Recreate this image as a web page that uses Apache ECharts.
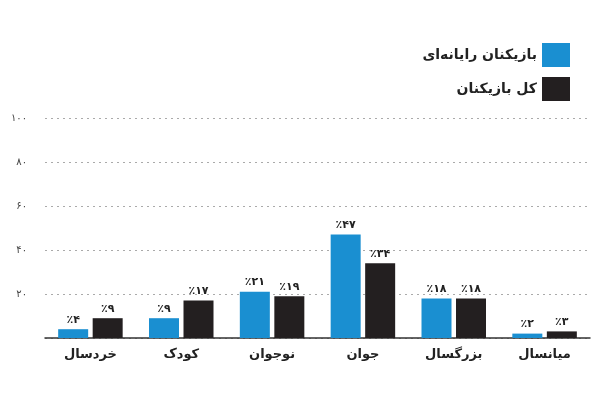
<!DOCTYPE html>
<html>
<head>
<meta charset="utf-8">
<script src="https://cdn.jsdelivr.net/npm/echarts@6/dist/echarts.min.js"></script>
<style>html,body{margin:0;background:#fff}#chart{width:600px;height:400px}</style>
</head>
<body>
<div id="chart"></div>
<script>
var categories = ['خردسال', 'کودک', 'نوجوان', 'جوان', 'بزرگسال', 'میانسال'];
var computerPlayers = [4, 9, 21, 47, 18, 2];
var allPlayers = [9, 17, 19, 34, 18, 3];
var seriesNames = ['بازیکنان رایانه‌ای', 'کل بازیکنان'];

var fa = function (n) {
  return String(n).replace(/\d/g, function (d) { return '۰۱۲۳۴۵۶۷۸۹'[d]; });
};
var font = 'DejaVu Sans';

var chart = echarts.init(document.getElementById('chart'));
var barLabel = {
  show: true, position: 'top', distance: 4, color: '#222', fontFamily: font, fontSize: 11, fontWeight: 'bold',
  formatter: function (p) { return '٪' + fa(p.value); }
};
chart.setOption({
  animation: false,
  textStyle: { fontFamily: font },
  legend: {
    orient: 'vertical', right: 25, top: 38, align: 'right', icon: 'rect', itemWidth: 28, itemHeight: 24, itemGap: 10,
    textStyle: { fontFamily: font, fontSize: 14, fontWeight: 'bold', color: '#222' },
    data: seriesNames
  },
  grid: { left: 45, right: 10, top: 118, bottom: 62 },
  xAxis: {
    type: 'category', data: categories,
    axisLine: { lineStyle: { color: '#333', width: 1.5 } },
    axisTick: { show: false },
    axisLabel: { color: '#222', fontFamily: font, fontSize: 13, fontWeight: 'bold', margin: 10 }
  },
  yAxis: {
    type: 'value', min: 0, max: 100, interval: 20,
    axisLine: { show: false }, axisTick: { show: false },
    axisLabel: {
      color: '#444', fontSize: 10, margin: 18,
      formatter: function (v) { return v === 0 ? '' : fa(v); }
    },
    splitLine: { lineStyle: { color: '#aaa', type: [2, 4] } }
  },
  series: [
    { name: seriesNames[0], type: 'bar', data: computerPlayers, barWidth: 30, barGap: '15%', itemStyle: { color: '#1a8fd1' }, label: barLabel },
    { name: seriesNames[1], type: 'bar', data: allPlayers, barWidth: 30, itemStyle: { color: '#231f20' }, label: barLabel }
  ]
});
</script>
</body>
</html>
